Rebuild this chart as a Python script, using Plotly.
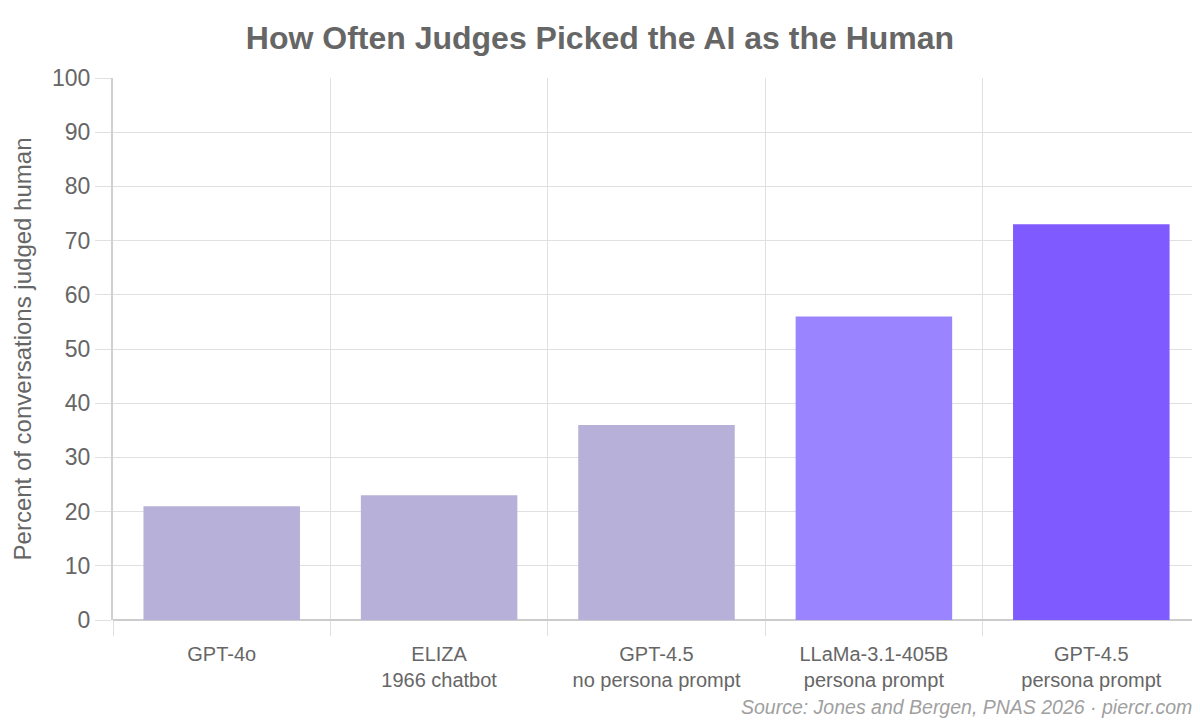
import plotly.graph_objects as go

models = ["GPT-4o", "ELIZA<br>1966 chatbot", "GPT-4.5<br>no persona prompt",
          "LLaMa-3.1-405B<br>persona prompt", "GPT-4.5<br>persona prompt"]
pct_human = [21, 23, 36, 56, 73]
bar_colors = ["#b7b1d9", "#b7b1d9", "#b7b1d9", "#9b84ff", "#7f5bff"]

grid = "#e0e0e0"
txt = "#666666"

fig = go.Figure()
fig.add_trace(go.Bar(x=models, y=pct_human, marker_color=bar_colors,
                     marker_line_width=0, width=0.72, hoverinfo="x+y"))

# page has an 8px body margin, so the figure is sized to fill the rest
fig.update_layout(
    width=1192, height=712,
    margin=dict(l=105, r=0, t=70, b=100),
    plot_bgcolor="white", paper_bgcolor="white",
    font=dict(family="Liberation Sans, Arial, sans-serif", color=txt),
    title=dict(text="<b>How Often Judges Picked the AI as the Human</b>",
               x=0.4966, xanchor="center", y=0.958, yanchor="middle",
               font=dict(size=32, color=txt)),
    showlegend=False,
)
fig.update_xaxes(type="category", tickson="boundaries", showgrid=True, gridcolor=grid,
                 gridwidth=1, ticks="outside", ticklen=15, tickcolor=grid,
                 ticklabelstandoff=20, showline=False,
                 tickfont=dict(size=20, color=txt))
fig.update_yaxes(range=[0, 100], dtick=10, showgrid=True, gridcolor=grid,
                 ticks="outside", ticklen=16, tickcolor=grid, zeroline=True,
                 zerolinecolor="#cccccc", zerolinewidth=2,
                 showline=True, linecolor="#d0d0d0", linewidth=2,
                 tickfont=dict(size=23, color=txt),
                 title=dict(text="Percent of conversations judged human",
                            font=dict(size=24, color=txt), standoff=14))
fig.add_annotation(text="<i>Source: Jones and Bergen, PNAS 2026 · piercr.com</i>",
                   xref="paper", yref="paper", x=1, y=-0.16, xanchor="right",
                   yanchor="middle", xshift=-6, showarrow=False,
                   font=dict(size=19.5, color="#a0a0a0"))

fig.write_html("out.html")
